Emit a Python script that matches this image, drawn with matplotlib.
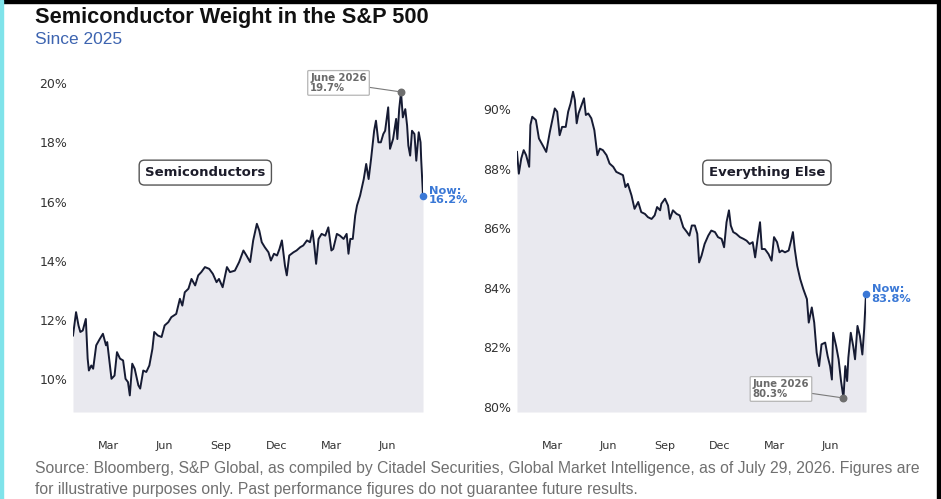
import numpy as np
import pandas as pd
import matplotlib
matplotlib.use("Agg")
import matplotlib.pyplot as plt
import matplotlib.dates as mdates
from matplotlib.patches import Rectangle

# ---------------- data ----------------
start_date = "2025-01-02"
end_date = "2026-07-29"

semi_days = [0,5,9,12,16,21,24,26,30,33, 38,44,49,54,56,63,68,72,77,82,
             86,90,93,97,101,107,110,115,120,125, 130,133,139,145,150,156,161,169,175,179,
             183,189,194,200,205,210,216,223,229,235, 239,245,252,257,265,272,279,284,290,295,
             301,305,309,314,320,324,329,334,338,342, 347,350,354,361,366,372,377,383,388,392,
             395,398,402,407,413,418,423,426,432,437, 443,448,451,454,458,462,465,470,476,480,
             484,488,493,496,500,504,508,511,516,519, 524,529,531,534,537,540,544,547,549,552,
             555,559,562,566,569,570,573]
semi_vals = [11.48,12.27,11.82,11.60,11.65,12.04,10.70,10.30,10.47,10.36,
             11.15,11.37,11.54,11.15,11.26,10.02,10.13,10.92,10.70,10.64,
             10.02,9.91,9.46,10.53,10.36,9.80,9.69,10.30,10.25,10.47,
             11.03,11.60,11.48,11.43,11.82,11.93,12.10,12.21,12.72,12.49,
             12.94,13.06,13.39,13.17,13.51,13.62,13.79,13.73,13.56,13.28,
             13.39,13.11,13.79,13.62,13.67,13.96,14.35,14.18,13.96,14.69,
             15.25,15.02,14.63,14.46,14.29,14.01,14.24,14.18,14.40,14.69,
             13.84,13.51,14.18,14.29,14.35,14.46,14.52,14.69,14.63,15.02,
             14.52,13.90,14.74,14.91,14.85,15.13,14.35,14.40,14.91,14.85,
             14.74,14.91,14.24,14.74,14.74,15.53,15.87,16.20,16.76,17.27,
             16.76,17.44,18.39,18.73,18.00,18.00,18.28,18.39,19.18,17.78,
             18.11,18.79,18.11,19.12,19.70,18.84,19.12,18.56,17.89,17.55,
             18.39,18.28,17.38,18.34,18.00,17.44,16.20]

else_days = [0,3,7,11,15,20,22,25,31,36, 42,48,54,58,62,66,70,74,80,84,
             88,92,95,98,101,106,110,113,117,122, 127,132,136,141,147,152,158,163,169,174,
             178,182,188,193,199,204,210,215,221,226, 230,235,237,243,248,251,256,262,267,273,
             279,283,287,292,296,299,303,308,314,319, 325,330,336,340,344,348,351,355,360,366,
             372,377,382,387,391,395,399,402,407,413, 418,422,427,431,435,440,446,450,453,456,
             460,465,470,476,479,484,488,492,496,500, 506,510,514,517,519,524,528,532,536,539,
             542,544,548,552,555,559,563,567,570,573]
else_vals = [88.56,87.83,88.34,88.62,88.45,88.06,89.46,89.74,89.63,89.01,
             88.79,88.56,89.24,89.63,90.02,89.91,89.12,89.40,89.40,89.91,
             90.19,90.58,90.30,89.52,89.85,90.13,90.36,89.80,89.85,89.69,
             89.29,88.45,88.67,88.62,88.45,88.17,88.06,87.89,87.83,87.78,
             87.38,87.49,87.10,86.65,86.88,86.54,86.48,86.37,86.31,86.43,
             86.71,86.60,86.82,86.99,86.76,86.31,86.60,86.48,86.43,86.03,
             85.87,85.75,86.09,86.09,85.81,84.85,85.08,85.47,85.75,85.92,
             85.87,85.70,85.64,85.36,86.20,86.60,86.09,85.87,85.81,85.70,
             85.64,85.58,85.47,85.53,85.02,85.64,86.20,85.30,85.30,85.13,
             84.91,85.70,85.53,85.19,85.25,85.19,85.25,85.58,85.87,85.30,
             84.74,84.29,83.96,83.62,82.83,83.34,82.83,81.82,81.37,82.10,
             82.16,81.71,81.37,80.92,82.49,82.04,81.60,80.87,80.30,81.37,
             80.87,81.65,82.49,82.04,81.60,82.72,82.38,81.76,82.61,83.80]

panel_titles = ["Semiconductors", "Everything Else"]
extreme_label = "June 2026"
semi_yticks = [10, 12, 14, 16, 18, 20]
else_yticks = [80, 82, 84, 86, 88, 90]
semi_ylim = (8.9, 20.44)
else_ylim = (79.83, 91.31)

title = "Semiconductor Weight in the S&P 500"
subtitle = "Since 2025"
source = ("Source: Bloomberg, S&P Global, as compiled by Citadel Securities, Global Market Intelligence, "
          "as of July 29, 2026. Figures are\nfor illustrative purposes only. Past performance figures "
          "do not guarantee future results.")

# ---------------- styling ----------------
LINE = "#161b33"
FILL = "#e9e9ef"
BLUE = "#3a78d6"

t0 = pd.Timestamp(start_date)
semi_dates = t0 + pd.to_timedelta(semi_days, unit="D")
else_dates = t0 + pd.to_timedelta(else_days, unit="D")

fig = plt.figure(figsize=(9.41, 4.99), dpi=100)
fig.patch.set_facecolor("white")

axL = fig.add_axes([73/941, 87/499, 350/941, 342/499])
axR = fig.add_axes([517/941, 87/499, 349/941, 342/499])


def draw_panel(ax, dates, vals, ylim, yticks, label, label_xy, mode):
    vals = np.asarray(vals)
    ax.fill_between(dates, vals, ylim[0], color=FILL, lw=0, zorder=1)
    ax.plot(dates, vals, color=LINE, lw=1.4, zorder=3)
    ax.set_ylim(*ylim)
    ax.set_xlim(pd.Timestamp(start_date), pd.Timestamp(end_date))
    ax.set_yticks(yticks)
    ax.set_yticklabels([f"{v}%" for v in yticks])
    ax.xaxis.set_major_locator(mdates.MonthLocator(bymonth=[3, 6, 9, 12]))
    ax.xaxis.set_major_formatter(mdates.DateFormatter("%b"))
    ax.tick_params(axis="x", length=0, pad=21, labelsize=8, labelcolor="#333333")
    ax.tick_params(axis="y", length=0, pad=4, labelsize=9, labelcolor="#333333")
    for s in ax.spines.values():
        s.set_visible(False)
    ax.set_facecolor("white")

    # panel label box
    ax.text(label_xy[0], label_xy[1], label, transform=ax.transAxes, ha="center", va="center",
            fontsize=9.5, fontweight="bold", color="#1c1c2a", zorder=5,
            bbox=dict(boxstyle="round,pad=0.45,rounding_size=0.4", fc="white", ec="#555555", lw=1.0))

    # extreme point annotation
    idx = int(np.argmax(vals)) if mode == "max" else int(np.argmin(vals))
    ax.scatter([dates[idx]], [vals[idx]], s=22, color="#6e6e6e", zorder=6)
    ax.annotate(f"{extreme_label}\n{vals[idx]:.1f}%", xy=(dates[idx], vals[idx]),
                xytext=(-45, 6.5), textcoords="offset points", ha="center", va="center",
                multialignment="left",
                fontsize=7.3, fontweight="bold", color="#6a6a6a", linespacing=0.95, zorder=6,
                bbox=dict(boxstyle="round,pad=0.25,rounding_size=0.1", fc="white", ec="#b5b5b5", lw=0.9),
                arrowprops=dict(arrowstyle="-", color="#7a7a7a", lw=0.8, shrinkA=0, shrinkB=2))

    # now annotation
    ax.scatter([dates[-1]], [vals[-1]], s=20, color=BLUE, zorder=6, clip_on=False)
    ax.annotate(f"Now:\n{vals[-1]:.1f}%", xy=(dates[-1], vals[-1]), xytext=(4, 0),
                textcoords="offset points", ha="left", va="center", fontsize=8.2,
                fontweight="bold", color=BLUE, linespacing=0.95, zorder=6, annotation_clip=False)


draw_panel(axL, semi_dates, semi_vals, semi_ylim, semi_yticks, panel_titles[0], (0.378, 0.7), "max")
draw_panel(axR, else_dates, else_vals, else_ylim, else_yticks, panel_titles[1], (0.716, 0.7), "min")

# titles
fig.text(35/941, 1 - 17/499, title, ha="left", va="center", fontsize=15.7, fontweight="bold",
         color="#111111", family=["Liberation Sans", "DejaVu Sans"])
fig.text(35/941, 1 - 40/499, subtitle, ha="left", va="center", fontsize=12.5,
         color="#3d64b0", family=["Liberation Sans", "DejaVu Sans"])
fig.text(35/941, 1 - 479/499, source, ha="left", va="center", fontsize=11.3, color="#707070",
         linespacing=1.45, family=["Liberation Sans Narrow", "Liberation Sans", "DejaVu Sans"])

# screenshot frame strips
fig.patches.append(Rectangle((0, 1 - 3/499), 1, 3/499, transform=fig.transFigure, color="black", zorder=10))
fig.patches.append(Rectangle((1 - 4/941, 0), 4/941, 1, transform=fig.transFigure, color="black", zorder=10))
fig.patches.append(Rectangle((0, 0), 3/941, 1, transform=fig.transFigure, color="#7fe3ea", zorder=10))

fig.savefig("out.png", dpi=100)
